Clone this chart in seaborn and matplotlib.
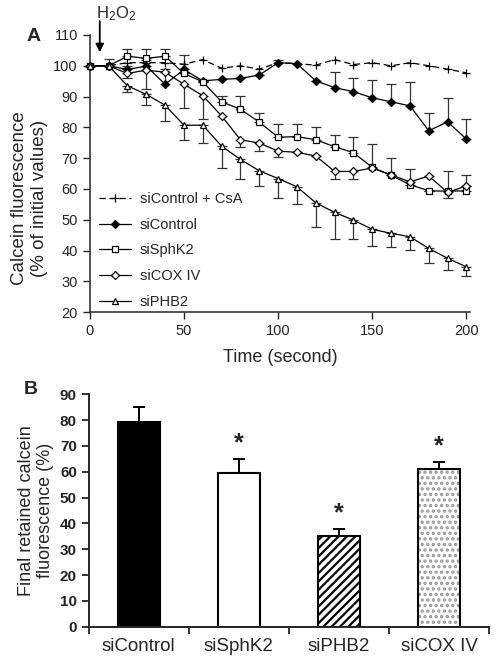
import numpy as np
import pandas as pd
import seaborn as sns
import matplotlib.pyplot as plt
import matplotlib.colors as mcolors

# ---- panel A data: calcein fluorescence over time ----
time_s = [0, 10, 20, 30, 40, 50, 60, 70, 80, 90, 100,
          110, 120, 130, 140, 150, 160, 170, 180, 190, 200]

csa_mean = [100, 100, 101, 101, 101, 100.5, 102, 99.2, 100, 98.9, 101,
            100.7, 100.2, 102, 100.4, 101, 100, 101, 100, 98.9, 97.7]

ctrl_mean = [100, 100, 98.8, 99.9, 94, 98.8, 95.1, 95.6, 95.9, 97, 101,
             100.7, 95.1, 92.9, 91.6, 89.6, 88.3, 87, 78.9, 81.8, 76.2]
ctrl_err = [0, 0, 1, 2, 5, 4.7, 0, 0, 0, 0, 1,
            0, 0, 5.2, 4.3, 5.8, 5.7, 7.8, 5.8, 7.8, 6.5]

sphk2_mean = [100, 100, 103.1, 102.4, 103.1, 97.5, 94.8, 88.3, 85.9, 81.7, 76.8,
              77, 76, 73.7, 71.8, 67, 64.4, 61.4, 59.4, 59.3, 59.4]
sphk2_err = [0, 2.2, 2.2, 3, 2.2, 0, 0, 2, 4.3, 3, 4.3,
             4.1, 4, 3.8, 5.2, 7.5, 5.5, 5, 0, 6.6, 5]

cox_mean = [100, 100, 97.5, 98.6, 97.9, 94, 90.3, 83.7, 76, 74.9, 72.3,
            71.9, 70.7, 65.7, 65.7, 66.8, 64.6, 62.3, 64.2, 58.9, 61]
cox_err = [0, 0, 1.5, 6.3, 0, 7.6, 7.6, 0, 2.5, 2.5, 1.8,
           0, 0, 2.3, 2.3, 0, 0, 0, 0, 1.8, 0]

phb2_mean = [100, 100, 93.5, 90.7, 87.2, 80.7, 80.7, 73.9, 69.6, 65.9, 63.4,
             60.7, 55.5, 52.4, 49.9, 46.9, 45.6, 44.5, 40.7, 37.5, 34.7]
phb2_err = [0, 0, 1.9, 3.5, 5.1, 4.8, 5.7, 7, 6.4, 4.9, 6.4,
            5.7, 7.8, 8.7, 6.2, 5.4, 4.4, 4.3, 4.7, 3.8, 3]

# ---- panel B data: final retained calcein ----
groups = ['siControl', 'siSphK2', 'siPHB2', 'siCOX IV']
final_mean = [79.3, 59.6, 35.2, 60.9]
final_err = [5.8, 5.3, 2.7, 2.9]
signif = [False, True, True, True]

sns.set_style('ticks')
plt.rcParams['font.family'] = ['Liberation Sans', 'DejaVu Sans']
plt.rcParams['mathtext.fontset'] = 'custom'
plt.rcParams['mathtext.rm'] = 'Liberation Sans'
plt.rcParams['hatch.linewidth'] = 1.6

fig = plt.figure(figsize=(4.96, 6.6), dpi=100)
axA = fig.add_axes([0.181, 0.527, 0.767, 0.42])
axB = fig.add_axes([0.179, 0.0505, 0.807, 0.352])

df = pd.DataFrame({'t': time_s, 'csa': csa_mean, 'ctrl': ctrl_mean,
                   'sphk2': sphk2_mean, 'cox': cox_mean, 'phb2': phb2_mean})

series = [
    ('csa', 'siControl + CsA', '+', 'k', (5, 3), None, 0),
    ('ctrl', 'siControl', 'D', 'k', '', ctrl_err, 1),
    ('sphk2', 'siSphK2', 's', 'white', '', sphk2_err, 1),
    ('cox', 'siCOX IV', 'D', 'white', '', cox_err, -1),
    ('phb2', 'siPHB2', '^', 'white', '', phb2_err, -1),
]

for col, label, mk, fc, dash, err, direction in series:
    if err is not None:
        lo = err if direction < 0 else [0] * len(err)
        hi = err if direction > 0 else [0] * len(err)
        axA.errorbar(df['t'], df[col], yerr=[lo, hi], fmt='none',
                     ecolor='0.2', elinewidth=0.9, capsize=3.5, capthick=0.9,
                     zorder=2, clip_on=False)
    ms = 6 if mk == '+' else (4.5 if mk == 'D' else 5)
    sns.lineplot(data=df, x='t', y=col, ax=axA, color='k', lw=0.9,
                 marker=mk, markersize=ms, markerfacecolor=fc,
                 markeredgecolor='k', markeredgewidth=0.9,
                 dashes=False, label=label, zorder=3, clip_on=False)
    line = axA.get_lines()[-1]
    if dash:
        line.set_dashes(dash)

axA.set_xlim(0, 202)
axA.set_ylim(20, 110)
axA.set_xticks([0, 50, 100, 150, 200])
axA.set_yticks(np.arange(20, 111, 10))
axA.tick_params(labelsize=10.5, width=1, length=5)
axA.set_xlabel('Time (second)', fontsize=13, labelpad=8)
axA.set_ylabel('Calcein fluorescence\n(% of initial values)', fontsize=13.5)
axA.yaxis.set_label_coords(-0.11, 0.41)
sns.despine(ax=axA)
for s in ['left', 'bottom']:
    axA.spines[s].set_linewidth(1.1)

handles, labels = axA.get_legend_handles_labels()
leg = axA.legend(handles, labels, loc='lower left', bbox_to_anchor=(-0.01, -0.035),
                 frameon=False, fontsize=10.5, handlelength=2.2,
                 labelspacing=0.8, handletextpad=0.6)

axA.annotate('', xy=(5.3, 104.4), xytext=(5.3, 114.5),
             arrowprops=dict(arrowstyle='-|>', color='k', lw=1.3,
                             mutation_scale=12, shrinkA=0, shrinkB=0),
             annotation_clip=False)
axA.text(3.5, 116.8, '$\\mathregular{H_2O_2}$', fontsize=12, ha='left', va='center')
fig.text(0.068, 0.944, 'A', fontsize=14, fontweight='bold', ha='center', va='center')

# ---- panel B ----
bar_df = pd.DataFrame({'group': groups, 'value': final_mean})
sns.barplot(data=bar_df, x='group', y='value', hue='group',
            palette=['black', 'white', 'white', 'white'], legend=False,
            width=0.42, edgecolor='black', linewidth=1.5, errorbar=None, ax=axB)
hatches = ['', '', '////', '...']
for patch, h in zip(axB.patches, hatches):
    patch.set_hatch(h)
# light stipple for the last bar
axB.patches[3]._hatch_color = mcolors.to_rgba('0.6')

axB.errorbar(range(len(groups)), final_mean,
             yerr=[[0] * len(groups), final_err], fmt='none', ecolor='k',
             elinewidth=1.4, capsize=4.5, capthick=1.4, zorder=1)
for i, (m, e, s) in enumerate(zip(final_mean, final_err, signif)):
    if s:
        axB.text(i, m + e + 1.5, '*', ha='center', va='bottom', fontsize=18,
                 fontweight='bold')

axB.set_xlim(-0.5, 3.5)
axB.set_ylim(0, 90)
axB.set_yticks(np.arange(0, 91, 10))
axB.set_xticks(range(len(groups)))
axB.set_xticklabels(groups, fontsize=13.5)
axB.set_xticks(np.arange(-0.5, 3.6, 1), minor=True)
axB.tick_params(axis='x', which='major', length=0, pad=8)
axB.tick_params(axis='x', which='minor', length=5, width=1.3)
axB.tick_params(axis='y', length=5, width=1.3, labelsize=11)
for lab in axB.get_yticklabels():
    lab.set_fontweight('bold')
axB.set_xlabel('')
axB.set_ylabel('Final retained calcein\nfluorescence (%)', fontsize=13, labelpad=4)
sns.despine(ax=axB)
for s in ['left', 'bottom']:
    axB.spines[s].set_linewidth(1.4)
fig.text(0.062, 0.41, 'B', fontsize=14, fontweight='bold', ha='center', va='center')

fig.savefig('out.png', dpi=100)
